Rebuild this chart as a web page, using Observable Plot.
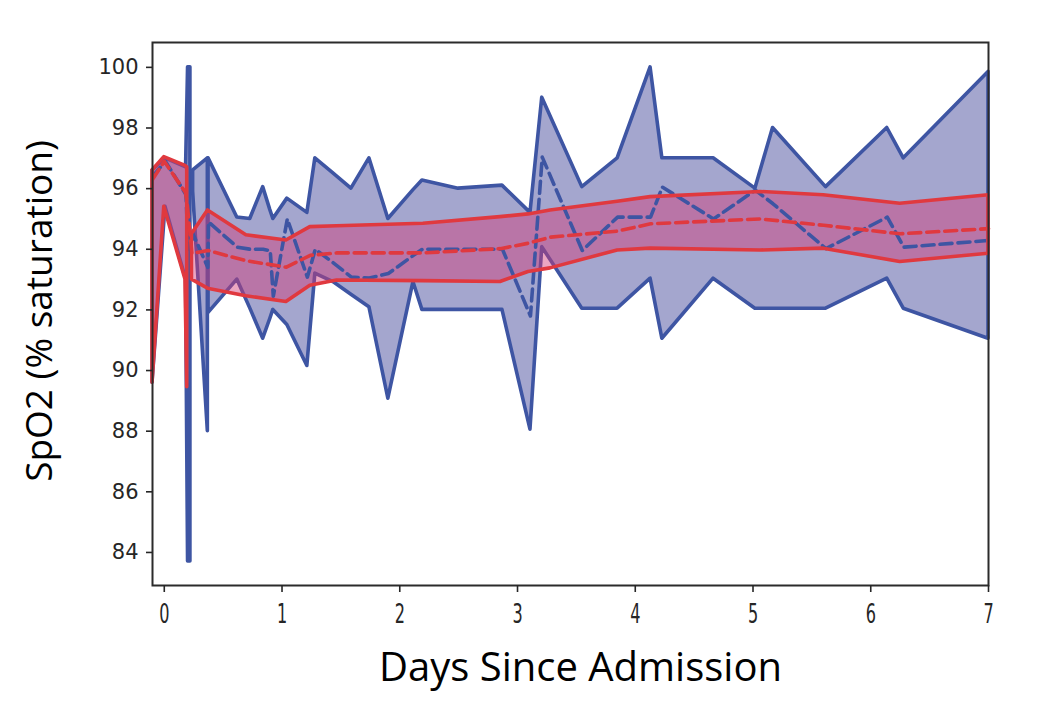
<!DOCTYPE html>
<html>
<head>
<meta charset="utf-8">
<script src="https://cdn.jsdelivr.net/npm/d3@7"></script>
<script src="https://cdn.jsdelivr.net/npm/@observablehq/plot@0.6"></script>
<style>
  html, body { margin: 0; padding: 0; background: #ffffff; }
  #chart { width: 1050px; height: 712px; }
</style>
</head>
<body>
<div id="chart"></div>
<script>
// ---- Patient range (blue): segment id, day, max, min, median ----
const blueSeg = [0, 0, 0, 0, 0,
                 1, 1,
                 2, 2, 2, 2, 2, 2, 2, 2, 2, 2, 2, 2, 2, 2, 2, 2, 2, 2, 2, 2, 2, 2, 2, 2, 2, 2, 2, 2, 2, 2];
const blueDay = [-0.1, 0.01, 0.185, 0.202, 0.222,
                 0.245, 0.37,
                 0.376, 0.62, 0.73, 0.84, 0.90, 0.926, 1.045, 1.215, 1.283, 1.436, 1.589, 1.742, 1.903, 2.116,
                 2.192, 2.498, 2.872, 3.11, 3.21, 3.55, 3.85, 4.13, 4.23, 4.665, 5.02, 5.17, 5.62, 6.14, 6.28, 7.0];
const blueMax = [96.6, 97.0, 96.7, 100.0, 100.0,
                 96.6, 97.0,
                 97.0, 95.05, 95.0, 96.05, 95.3, 95.0, 95.67, 95.2, 97.0, 96.5, 96.0, 97.0, 95.0, 95.95,
                 96.27, 96.0, 96.1, 95.2, 99.0, 96.05, 97.0, 100.0, 97.0, 97.0, 96.0, 98.0, 96.05, 98.0, 97.0, 99.85];
const blueMin = [89.6, 95.4, 93.0, 83.7, 83.7,
                 95.9, 88.0,
                 91.9, 93.0, 92.05, 91.05, 91.7, 92.0, 91.5, 90.15, 93.2, 92.92, 92.5, 92.09, 89.07, 92.92,
                 92.0, 92.0, 92.0, 88.05, 94.07, 92.04, 92.04, 93.03, 91.05, 93.03, 92.04, 92.04, 92.04, 93.03, 92.04, 91.05];
const blueMed = [96.4, 96.9, 95.8, 94.0, 94.0,
                 94.5, 93.4,
                 94.9, 94.07, 94.0, 94.0, 93.95, 92.45, 95.0, 93.08, 94.0, 93.55, 93.08, 93.05, 93.2, 93.8,
                 94.0, 94.0, 94.0, 91.8, 97.04, 93.96, 95.06, 95.06, 96.05, 95.0, 95.95, 95.5, 94.02, 95.06, 94.07, 94.29];

// ---- Cohort band (red): segment id, day, upper, lower, median ----
const redSeg = [0, 0, 0, 0,
                1, 1, 1, 1, 1, 1, 1, 1, 1, 1, 1, 1, 1, 1, 1, 1];
const redDay = [-0.1, 0.0, 0.18, 0.195,
                0.235, 0.371, 0.697, 1.037, 1.24, 1.467, 2.20, 2.855, 3.093, 3.28, 3.85, 4.13, 5.064, 5.60, 6.25, 7.0];
const redHi = [96.6, 97.04, 96.75, 96.7,
               94.5, 95.28, 94.46, 94.29, 94.73, 94.76, 94.84, 95.06, 95.15, 95.28, 95.57, 95.72, 95.89, 95.78, 95.5, 95.78];
const redLo = [89.6, 95.4, 93.0, 89.45,
               93.0, 92.7, 92.45, 92.26, 92.8, 92.97, 92.95, 92.92, 93.25, 93.37, 93.96, 94.02, 93.96, 94.02, 93.58, 93.85];
const redMed = [96.3, 96.9, 95.87, 95.5,
                93.86, 93.96, 93.62, 93.41, 93.8, 93.88, 93.88, 94.02, 94.2, 94.4, 94.6, 94.84, 95.0, 94.79, 94.51, 94.68];

// ---- Axes ----
const xTicks = [0, 1, 2, 3, 4, 5, 6, 7];
const yTicks = [84, 86, 88, 90, 92, 94, 96, 98, 100];
const xTitle = "Days Since Admission";
const yTitle = "SpO2 (% saturation)";

const blue = blueDay.map((d, i) => ({day: d, hi: blueMax[i], lo: blueMin[i], med: blueMed[i], seg: blueSeg[i]}));
const red = redDay.map((d, i) => ({day: d, hi: redHi[i], lo: redLo[i], med: redMed[i], seg: redSeg[i]}));

const BLUE = "#3e55a3";
const RED = "#e0393f";

const chart = Plot.plot({
  width: 1050,
  height: 712,
  marginLeft: 152,
  marginRight: 62,
  marginTop: 42,
  marginBottom: 127,
  style: {fontFamily: "DejaVu Sans, sans-serif", fontSize: "20px", color: "#262626", background: "#ffffff", overflow: "visible"},
  x: {domain: [-0.1, 7]},
  y: {domain: [82.91, 100.82]},
  marks: [
    Plot.areaY(blue, {x: "day", y1: "lo", y2: "hi", z: "seg", fill: "#a4a6ce", stroke: BLUE, strokeWidth: 3.6, strokeLinejoin: "round", curve: "linear"}),
    Plot.areaY(red, {x: "day", y1: "lo", y2: "hi", z: "seg", fill: "#d23a78", fillOpacity: 0.45, curve: "linear"}),
    Plot.line(blue, {x: "day", y: "med", stroke: BLUE, strokeWidth: 3.6, strokeDasharray: "12,6", strokeLinejoin: "round"}),
    Plot.areaY(red, {x: "day", y1: "lo", y2: "hi", z: "seg", fill: "none", stroke: RED, strokeWidth: 3.6, strokeLinejoin: "round", curve: "linear"}),
    Plot.line(red, {x: "day", y: "med", stroke: RED, strokeWidth: 3.6, strokeDasharray: "12,6", strokeLinejoin: "round"}),
    Plot.frame({stroke: "#2b2b2b", strokeWidth: 2}),
    Plot.axisX({ticks: xTicks, tickSize: 7, tickPadding: 12, label: null, fontSize: 26, strokeWidth: 1.6, tickFormat: d => String(d)}),
    Plot.axisY({ticks: yTicks, tickSize: 6, tickPadding: 8, label: null, fontSize: 21, strokeWidth: 1.6, tickFormat: d => String(d)}),
    Plot.text([yTitle], {frameAnchor: "left", textAnchor: "middle", dx: -112, dy: -3, rotate: -90, fontSize: 37, fontFamily: "Open Sans, sans-serif", fill: "#000000"}),
    Plot.text([xTitle], {frameAnchor: "bottom", textAnchor: "middle", dx: 10, dy: 95, fontSize: 40, fontFamily: "Open Sans, sans-serif", fill: "#000000"})
  ]
});

document.getElementById("chart").appendChild(chart);

// condense the x tick labels horizontally like the reference
d3.select(chart).selectAll('g[aria-label="x-axis tick label"] text').each(function() {
  const t = this.getAttribute("transform") || "";
  this.setAttribute("transform", t + " scale(0.62,1)");
});
</script>
</body>
</html>
